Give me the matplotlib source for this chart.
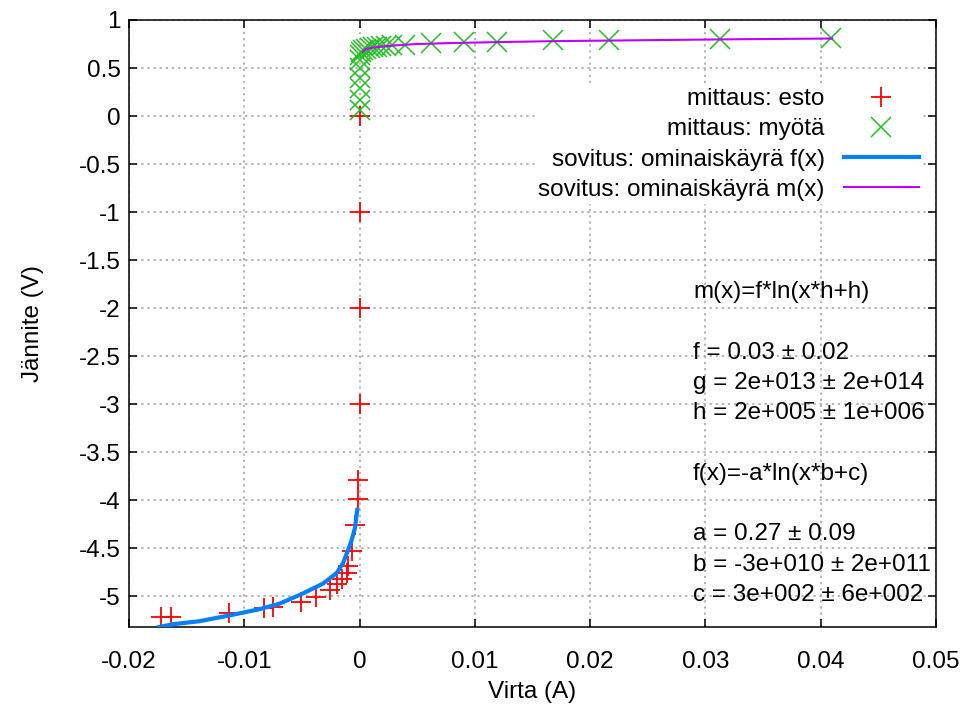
import numpy as np
import matplotlib
matplotlib.use("Agg")
import matplotlib.pyplot as plt
from matplotlib.ticker import FormatStrFormatter

plt.rcParams['font.family'] = ['Liberation Sans', 'DejaVu Sans']
plt.rcParams['axes.unicode_minus'] = False

# mittaus: esto (red +)
esto_x = [-0.0172, -0.0164, -0.0113, -0.0083, -0.0075, -0.0051, -0.0038, -0.0026,
          -0.0020, -0.0015, -0.0011, -0.0010, -0.0007, -0.0004, -0.0001, -0.0001,
          0.0, 0.0, 0.0, 0.0]
esto_y = [-5.22, -5.22, -5.17, -5.12, -5.11, -5.06, -5.01, -4.93,
          -4.87, -4.82, -4.76, -4.69, -4.53, -4.26, -3.99, -3.79,
          -3.0, -2.0, -1.0, 0.0]

# mittaus: myötä (green x)
myota_x = [0.0, 0.0, 0.0, 0.0, 0.0, 0.0, 0.0, 0.0001, 0.0003, 0.0006, 0.0009,
           0.0012, 0.0015, 0.0019, 0.0023, 0.0028, 0.0039, 0.0062, 0.0091,
           0.0119, 0.0168, 0.0216, 0.0313, 0.0409]
myota_y = [0.06, 0.17, 0.29, 0.40, 0.50, 0.58, 0.64, 0.67, 0.69, 0.70, 0.71,
           0.72, 0.72, 0.73, 0.73, 0.74, 0.74, 0.76, 0.77,
           0.77, 0.79, 0.79, 0.80, 0.81]

# sovitus f(x) (blue)
fit_f_x = [-0.0174, -0.0161, -0.0139, -0.0113, -0.0087, -0.0070, -0.0049, -0.0032,
           -0.0020, -0.00145, -0.0010, -0.0007, -0.0004, -0.0002]
fit_f_y = [-5.32, -5.29, -5.26, -5.20, -5.135, -5.08, -4.97, -4.87,
           -4.76, -4.66, -4.52, -4.42, -4.29, -4.10]

# sovitus m(x) (magenta)
fit_m_x = [0.0003, 0.0005, 0.001, 0.002, 0.003, 0.005, 0.008, 0.012, 0.017,
           0.025, 0.033, 0.041]
fit_m_y = [0.67, 0.695, 0.71, 0.725, 0.735, 0.75, 0.76, 0.77, 0.78,
           0.79, 0.80, 0.807]

info_lines = ["m(x)=f*ln(x*h+h)", "", "f = 0.03 \u00b1 0.02", "g = 2e+013 \u00b1 2e+014",
              "h = 2e+005 \u00b1 1e+006", "", "f(x)=-a*ln(x*b+c)", "",
              "a = 0.27 \u00b1 0.09", "b = -3e+010 \u00b1 2e+011", "c = 3e+002 \u00b1 6e+002"]

fs = 17.5

fig = plt.figure(figsize=(9.6, 7.18), dpi=100)
ax = fig.add_axes([129 / 960, 1 - 627 / 718, 807 / 960, 607 / 718])

ax.plot(esto_x, esto_y, linestyle='none', marker='+', ms=14, mew=1.3,
        color='#ff0000', label='mittaus: esto', zorder=3)
ax.plot(myota_x, myota_y, linestyle='none', marker='x', ms=15, mew=1.1,
        color='#20c020', label='mittaus: myötä', zorder=3)
ax.plot(fit_f_x, fit_f_y, color='#0080ff', lw=3, label='sovitus: ominaiskäyrä f(x)', zorder=4)
ax.plot(fit_m_x, fit_m_y, color='#c000ff', lw=1.5, label='sovitus: ominaiskäyrä m(x)', zorder=4)

ax.set_xlim(-0.02, 0.05)
ax.set_ylim(-5.32, 1)
ax.set_xticks(np.arange(-0.02, 0.0501, 0.01))
ax.set_yticks(np.arange(-5, 1.01, 0.5))
ax.xaxis.set_major_formatter(FormatStrFormatter('%g'))
ax.yaxis.set_major_formatter(FormatStrFormatter('%g'))
ax.tick_params(direction='in', top=True, right=True, length=6, width=1.1,
               labelsize=fs, colors='black')
ax.tick_params(axis='x', pad=17)
ax.tick_params(axis='y', pad=6)
for s in ax.spines.values():
    s.set_linewidth(1.1)

ax.grid(True, color='#a0a0a0', linestyle=(0, (1.5, 2.5)), linewidth=1.1)
ax.set_axisbelow(True)

ax.set_xlabel('Virta (A)', fontsize=fs, labelpad=6)
ax.set_ylabel('Jännite (V)', fontsize=fs, labelpad=25)

leg = ax.legend(loc='upper right', bbox_to_anchor=(0.997, 0.912), fontsize=fs,
                markerfirst=False, frameon=True, fancybox=False, framealpha=1,
                edgecolor='white', handlelength=3.1, handletextpad=0.78,
                labelspacing=0.34, borderpad=0.1)

for i, line in enumerate(info_lines):
    ax.text((693 - 129) / 807, (627 - 292 - 30.3 * i) / 607, line, transform=ax.transAxes,
            fontsize=fs, va='center', ha='left')

fig.savefig('out.png', dpi=100)
